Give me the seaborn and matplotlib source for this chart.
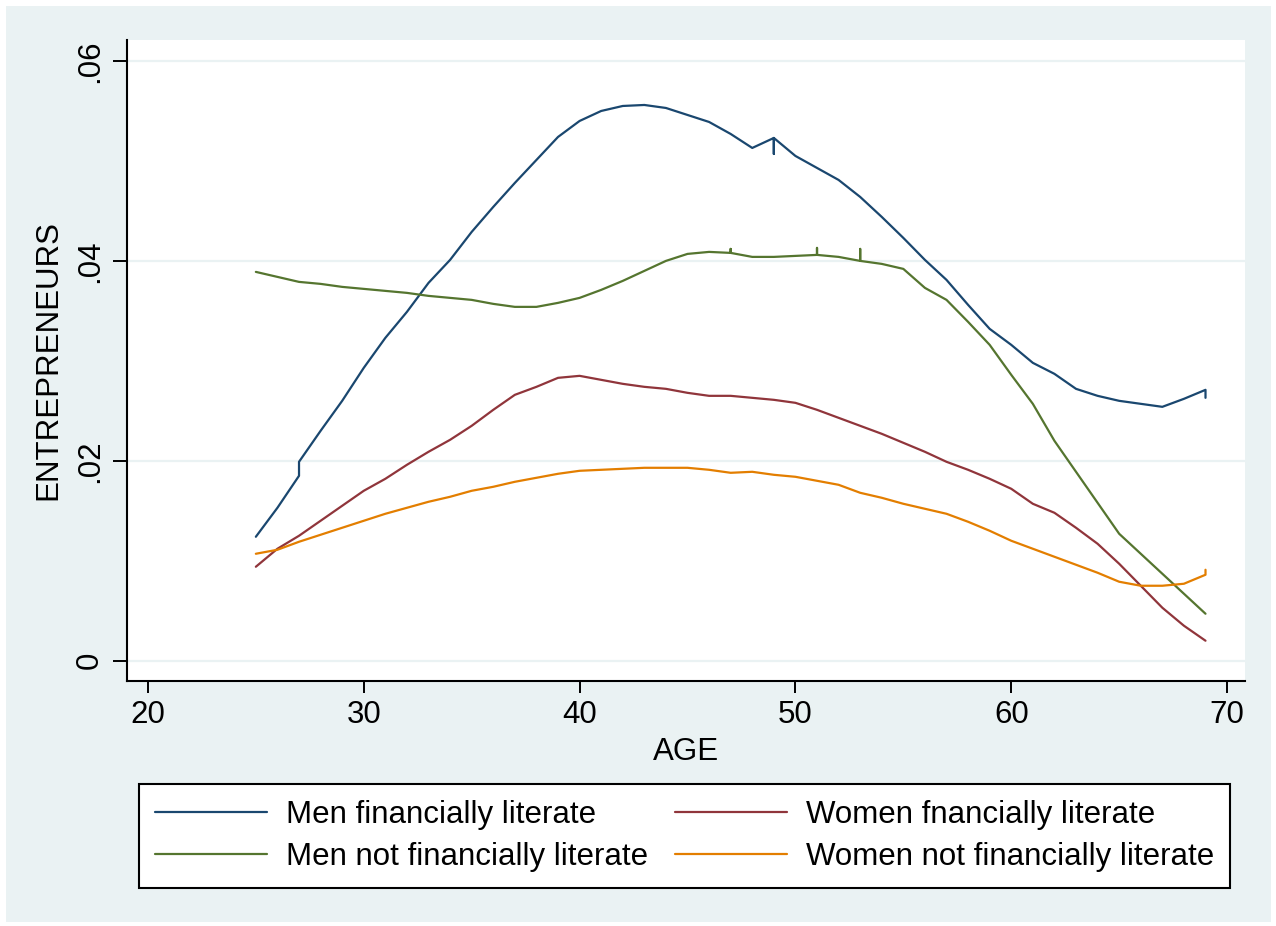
import numpy as np
import pandas as pd
import matplotlib
matplotlib.use("Agg")
import matplotlib.pyplot as plt
from matplotlib.patches import Rectangle
import seaborn as sns

# ---------------- data ----------------
ages_men_lit = [25, 26, 27, 27, 28, 29, 30, 31, 32, 33, 34, 35, 36, 37, 38, 39, 40,
                41, 42, 43, 44, 45, 46, 47, 48, 49, 49, 49, 50, 51, 52, 53, 54, 55,
                56, 57, 58, 59, 60, 61, 62, 63, 64, 65, 66, 67, 68, 69, 69]
men_lit = [.0124, .0153, .0185, .0199, .0230, .0260, .0293, .0323, .0349, .0378,
           .0401, .0429, .0454, .0478, .0501, .0524, .0540, .0550, .0555, .0556,
           .0553, .0546, .0539, .0527, .0513, .0523, .0507, .0523, .0505, .0493,
           .0481, .0464, .0444, .0423, .0401, .0381, .0356, .0332, .0316, .0298,
           .0287, .0272, .0265, .0260, .0257, .0254, .0262, .0271, .0263]

ages_men_not = [25, 26, 27, 28, 29, 30, 31, 32, 33, 34, 35, 36, 37, 38, 39, 40, 41,
                42, 43, 44, 45, 46, 47, 47, 47, 48, 49, 50, 51, 51, 51, 52, 53, 53,
                53, 54, 55, 56, 57, 58, 59, 60, 61, 62, 63, 64, 65, 66, 67, 68, 69]
men_not = [.0389, .0384, .0379, .0377, .0374, .0372, .0370, .0368, .0365, .0363,
           .0361, .0357, .0354, .0354, .0358, .0363, .0371, .0380, .0390, .0400,
           .0407, .0409, .0408, .0412, .0408, .0404, .0404, .0405, .0406, .0413,
           .0406, .0404, .0400, .0412, .0400, .0397, .0392, .0373, .0361, .0339,
           .0316, .0286, .0257, .0220, .0189, .0158, .0127, .0107, .0087, .0067,
           .0047]

ages_women = list(range(25, 70))
women_lit = [.0094, .0112, .0125, .0140, .0155, .0170, .0182, .0196, .0209, .0221,
             .0235, .0251, .0266, .0274, .0283, .0285, .0281, .0277, .0274, .0272,
             .0268, .0265, .0265, .0263, .0261, .0258, .0251, .0243, .0235, .0227,
             .0218, .0209, .0199, .0191, .0182, .0172, .0157, .0148, .0133, .0117,
             .0097, .0075, .0053, .0035, .0020]

ages_women_not = list(range(25, 70)) + [69]
women_not = [.0107, .0111, .0119, .0126, .0133, .0140, .0147, .0153, .0159, .0164,
             .0170, .0174, .0179, .0183, .0187, .0190, .0191, .0192, .0193, .0193,
             .0193, .0191, .0188, .0189, .0186, .0184, .0180, .0176, .0168, .0163,
             .0157, .0152, .0147, .0139, .0130, .0120, .0112, .0104, .0096, .0088,
             .0079, .0075, .0075, .0077, .0086, .0091]

labels = ["Men financially literate", "Men not financially literate",
          "Women fnancially literate", "Women not financially literate"]
colors = ["#1a476f", "#55752f", "#90353b", "#e37e00"]
x_ticks = [20, 30, 40, 50, 60, 70]
y_ticks = [0, .02, .04, .06]
y_ticklabels = ["0", ".02", ".04", ".06"]

frames = []
for lab, xs, ys in zip(labels,
                       [ages_men_lit, ages_men_not, ages_women, ages_women_not],
                       [men_lit, men_not, women_lit, women_not]):
    frames.append(pd.DataFrame({"AGE": xs, "ENTREPRENEURS": ys, "series": lab}))
df = pd.concat(frames, ignore_index=True)

# ---------------- figure ----------------
sns.set_theme(style="white")
plt.rcParams["font.family"] = ["Liberation Sans", "DejaVu Sans"]
plt.rcParams["text.color"] = "black"
BG = "#EAF2F3"

fig = plt.figure(figsize=(12.76, 9.26), dpi=100, facecolor="white")
fig.patches.append(Rectangle((6 / 1276, 1 - 922 / 926), (1271 - 6) / 1276, (922 - 6) / 926,
                             transform=fig.transFigure, facecolor=BG, edgecolor="none",
                             zorder=-10))
ax = fig.add_axes([127 / 1276, 1 - 681 / 926, (1245 - 127) / 1276, (681 - 40) / 926])
ax.set_facecolor("white")

sns.lineplot(data=df, x="AGE", y="ENTREPRENEURS", hue="series", hue_order=labels,
             palette=colors, estimator=None, sort=False, units="series",
             linewidth=1.6, legend=False, ax=ax)

ax.set_xlim(19.03, 70.83)
ax.set_ylim(-0.00203, 0.0621)
ax.set_xticks(x_ticks)
ax.set_xticklabels([str(t) for t in x_ticks])
ax.set_yticks(y_ticks)
ax.set_yticklabels(y_ticklabels, rotation=90, va="center")
for t in y_ticks:
    ax.axhline(t, color=BG, lw=1.6, zorder=0)

for s in ["top", "right"]:
    ax.spines[s].set_visible(False)
for s in ["left", "bottom"]:
    ax.spines[s].set_color("black")
    ax.spines[s].set_linewidth(1.5)

ax.tick_params(axis="y", direction="out", length=10, width=1.4, color="black",
               pad=6, labelsize=22.5, labelcolor="black", left=True)
ax.tick_params(axis="x", direction="out", length=8.6, width=1.4, color="black",
               pad=5, labelsize=22.5, labelcolor="black", bottom=True)
ax.set_xlabel("AGE", fontsize=22.5, color="black", labelpad=5)
ax.set_ylabel("ENTREPRENEURS", fontsize=22.5, color="black", labelpad=8)

handles = ax.get_lines()[:4]
leg = fig.legend(handles, labels, ncol=2, loc="upper left",
                 bbox_to_anchor=(139 / 1276, 1 - 888 / 926, (1230 - 139) / 1276, 104 / 926),
                 mode="expand", fontsize=22.5, frameon=True, fancybox=False,
                 edgecolor="black", facecolor="white", framealpha=1,
                 handlelength=3.6, handletextpad=0.6, columnspacing=1.6,
                 borderpad=0.5, labelspacing=0.4, borderaxespad=0,
                 labelcolor="black")
leg.get_frame().set_linewidth(1.5)
for h in leg.get_lines():
    h.set_linewidth(1.6)

fig.savefig("out.png", dpi=100, facecolor=fig.get_facecolor())
